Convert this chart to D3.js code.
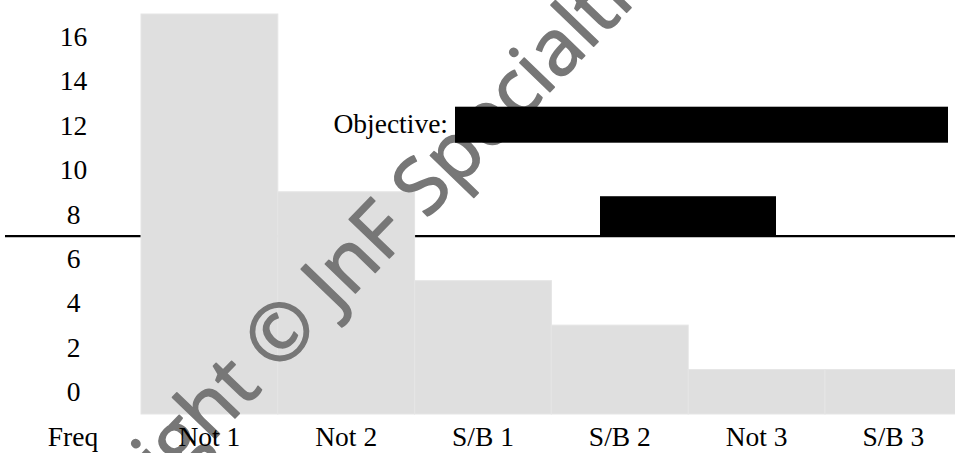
<!DOCTYPE html>
<html>
<head>
<meta charset="utf-8">
<script src="https://cdn.jsdelivr.net/npm/d3@7"></script>
<style>
  html, body { margin: 0; padding: 0; background: #fff; }
  svg { display: block; }
  .lbl { font-family: "Liberation Serif", "Times New Roman", serif; font-size: 27.5px; fill: #000; }
</style>
</head>
<body>
<svg id="chart" width="955" height="453"></svg>
<script>
// Frequency of each category
const categories = ["Not 1", "Not 2", "S/B 1", "S/B 2", "Not 3", "S/B 3"];
const freq = [18, 10, 6, 4, 2, 2];
// Row labels on the left side
const yTickLabels = [0, 2, 4, 6, 8, 10, 12, 14, 16];
// Objective level drawn as a horizontal rule
const objective = 8;
const watermarkText = "Copyright \u00A9 JnF Specialties";

const W = 955, H = 453;
const svg = d3.select("#chart");

const x = d3.scaleBand()
  .domain(categories)
  .range([141, 141 + 136.8 * categories.length])
  .padding(0);

const y = d3.scaleLinear()
  .domain([0, 18])
  .range([414, 14]);

// objective rule (behind the bars)
svg.append("line")
  .attr("x1", 5).attr("x2", W)
  .attr("y1", y(objective)).attr("y2", y(objective))
  .attr("stroke", "#000").attr("stroke-width", 2.2);

// bars
svg.append("g").selectAll("rect")
  .data(categories)
  .join("rect")
  .attr("x", d => x(d))
  .attr("width", x.bandwidth())
  .attr("y", (d, i) => y(freq[i]))
  .attr("height", (d, i) => y(0) - y(freq[i]))
  .attr("fill", "#dfdfdf")
  .attr("stroke", "#e5e5e5")
  .attr("stroke-width", 1);

// watermark, positioned so the © symbol sits at a chosen point
const wm = svg.append("g");
const wmText = wm.append("text")
  .attr("x", 0).attr("y", 0)
  .style("font-family", "'Open Sans', sans-serif")
  .style("font-size", "78px")
  .style("letter-spacing", "0px")
  .attr("fill", "#777777")
  .attr("stroke", "#777777")
  .attr("stroke-width", 1.6)
  .attr("stroke-linejoin", "round")
  .text(watermarkText);
const ext = wmText.node().getExtentOfChar(10);
const cx = ext.x + ext.width / 2, cy = ext.y + ext.height / 2;
wm.attr("transform", `translate(278,330) rotate(-46) translate(${-cx},${-cy})`);

// redaction boxes
svg.append("rect")
  .attr("x", 455).attr("y", 106.7)
  .attr("width", 493).attr("height", 36)
  .attr("fill", "#000");
svg.append("rect")
  .attr("x", 600).attr("y", y(objective) - 40)
  .attr("width", 176).attr("height", 40)
  .attr("fill", "#000");

// "Objective:" label
svg.append("text")
  .attr("class", "lbl")
  .attr("x", 448).attr("y", 133)
  .attr("text-anchor", "end")
  .text("Objective:");

// row labels, centred in each two-unit row
svg.append("g").selectAll("text")
  .data(yTickLabels)
  .join("text")
  .attr("class", "lbl")
  .attr("x", 73.5)
  .attr("y", d => y(d + 1) + 9.5)
  .attr("text-anchor", "middle")
  .text(d => d);

// category labels
svg.append("text")
  .attr("class", "lbl")
  .attr("x", 73).attr("y", 446)
  .attr("text-anchor", "middle")
  .text("Freq");

svg.append("g").selectAll("text")
  .data(categories)
  .join("text")
  .attr("class", "lbl")
  .attr("x", d => x(d) + x.bandwidth() / 2)
  .attr("y", 446)
  .attr("text-anchor", "middle")
  .text(d => d);
</script>
</body>
</html>
